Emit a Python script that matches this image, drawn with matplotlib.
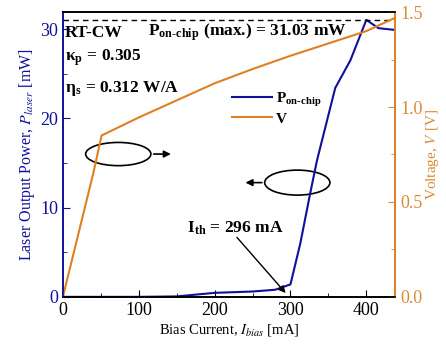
import matplotlib
matplotlib.use("Agg")
import matplotlib.pyplot as plt
from matplotlib.patches import Ellipse
from matplotlib.ticker import MultipleLocator, FormatStrFormatter

plt.rcParams['font.family'] = ['Liberation Serif', 'DejaVu Serif']
plt.rcParams['mathtext.fontset'] = 'stix'

# Data
current_p = [0, 50, 100, 150, 200, 250, 280, 300, 313, 326, 335, 359, 379, 400, 416, 438]
power = [0, 0, 0, 0.05, 0.45, 0.6, 0.8, 1.4, 6.0, 11.6, 15.3, 23.4, 26.5, 31.03, 30.1, 29.9]
current_v = [0, 40, 51, 100, 150, 200, 250, 300, 350, 400, 438]
voltage = [0, 0.65, 0.85, 0.945, 1.035, 1.125, 1.2, 1.27, 1.335, 1.40, 1.47]
p_max = 31.03
i_th = 296

BLUE = '#10109a'
ORANGE = '#e08020'
ORANGE_T = '#d98a35'

fig = plt.figure(figsize=(4.46, 3.46), dpi=100)
ax = fig.add_axes([0.141, 0.142, 0.745, 0.823])
ax2 = ax.twinx()

l1, = ax.plot(current_p, power, color=BLUE, lw=1.5, label='P$_\\mathregular{on\u2010chip}$')
l2, = ax2.plot(current_v, voltage, color=ORANGE, lw=1.5, label='V')
ax.axhline(p_max, color='black', ls=(0, (4, 3)), lw=1.0)

ax.set_xlim(0, 438)
ax.set_ylim(0, 31.9)
ax2.set_ylim(0, 1.5)

ax.xaxis.set_major_locator(MultipleLocator(100))
ax.xaxis.set_minor_locator(MultipleLocator(50))
ax.yaxis.set_major_locator(MultipleLocator(10))
ax.yaxis.set_minor_locator(MultipleLocator(5))
ax2.yaxis.set_major_locator(MultipleLocator(0.5))
ax2.yaxis.set_minor_locator(MultipleLocator(0.25))
ax2.yaxis.set_major_formatter(FormatStrFormatter('%.1f'))

ax.tick_params(axis='both', which='both', direction='in', labelsize=13)
ax.tick_params(axis='both', which='major', length=5)
ax.tick_params(axis='both', which='minor', length=3)
ax.tick_params(axis='y', which='both', colors=BLUE)
ax.tick_params(axis='x', which='both', colors='black')
ax2.tick_params(axis='y', which='both', direction='in', colors=ORANGE_T, labelsize=13)
ax2.tick_params(axis='y', which='major', length=5)
ax2.tick_params(axis='y', which='minor', length=3)

for a in (ax, ax2):
    a.spines['left'].set_color(BLUE)
    a.spines['right'].set_color(ORANGE)
    a.spines['top'].set_color('black')
    a.spines['bottom'].set_color('black')
    for s in a.spines.values():
        s.set_linewidth(1.2)

ax.set_xlabel('Bias Current, $I_{bias}$ [mA]', fontsize=10.5, labelpad=2)
ax.set_ylabel('Laser Output Power, $P_{laser}$ [mW]', fontsize=11.5, color=BLUE, labelpad=2)
ax2.set_ylabel('Voltage, $V$ [V]', fontsize=11, color=ORANGE_T, labelpad=1)

bold = dict(fontweight='bold', fontsize=12.5, color='black')
ax.text(3, 29.6, 'RT-CW', va='center', ha='left', **bold)
ax.text(112, 29.6, 'P$_\\mathregular{on\u2010chip}$ (max.) = 31.03 mW', va='center', ha='left', **bold)
ax.text(3, 26.8, '\u03ba$_\\mathregular{p}$ = 0.305', va='center', ha='left', **bold)
ax.text(3, 23.3, '\u03b7$_\\mathregular{s}$ = 0.312 W/A', va='center', ha='left', **bold)
ax.text(163, 7.7, 'I$_\\mathregular{th}$ = 296 mA', va='center', ha='left', **bold)

ax.annotate('', xy=(i_th, 0.2), xytext=(227, 6.9),
            arrowprops=dict(arrowstyle='-|>', color='black', lw=1.0, mutation_scale=10))

ax.add_patch(Ellipse((73, 16.0), 86, 2.6, fill=False, edgecolor='black', lw=1.2))
ax.annotate('', xy=(146, 16.0), xytext=(116, 16.0),
            arrowprops=dict(arrowstyle='-|>', color='black', lw=1.2, mutation_scale=10))
ax.add_patch(Ellipse((309, 12.8), 86, 2.8, fill=False, edgecolor='black', lw=1.2))
ax.annotate('', xy=(237, 12.8), xytext=(266, 12.8),
            arrowprops=dict(arrowstyle='-|>', color='black', lw=1.2, mutation_scale=10))

leg = ax2.legend(handles=[l1, l2], loc='upper left', bbox_to_anchor=(0.49, 0.745),
                 frameon=False, handlelength=2.6, prop=dict(weight='bold', size=11),
                 borderaxespad=0, labelspacing=0.2, handletextpad=0.3)

fig.savefig('out.png', dpi=100)
